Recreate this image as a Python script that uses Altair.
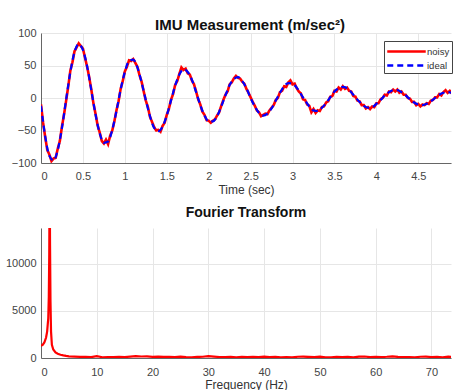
import altair as alt
import pandas as pd

# ---- data ----
ideal_y = [-12, -59, -89, -96, -80, -46, -2, 40, 71, 83, 74, 49, 12, -25, -54, -69, -67, -49, -20, 13,
           40, 57, 59, 47, 24, -3, -28, -46, -51, -44, -27, -4, 19, 36, 44, 40, 28, 9, -11, -27,
           -36, -36, -28, -13, 4, 20, 29, 32, 26, 15, 0, -13, -23, -27, -24, -16, -4, 8, 18, 23,
           22, 16, 6, -4, -13, -19, -20, -15, -8, 1, 10, 15, 17, 15, 9, 1, -6, -12, -15, -14,
           -9, -3, 4, 9, 12, 12, 9, 4, -2, -7, -10, -11, -9, -5, 0, 5, 8, 9, 8]
ideal_step = 0.05

noisy_y = [-10, -38, -60, -80, -87, -97, -93, -92, -78, -66, -44, -25, -4, 18, 42, 55, 72, 78, 84, 80,
           76, 62, 48, 32, 13, -8, -24, -42, -53, -66, -70, -64, -71, -58, -50, -36, -19, -5, 14, 26,
           41, 48, 58, 57, 60, 54, 48, 35, 25, 10, -4, -14, -29, -37, -45, -50, -49, -52, -43, -38,
           -26, -17, -3, 6, 20, 26, 37, 47, 43, 45, 38, 36, 27, 21, 10, -2, -10, -21, -26, -34,
           -35, -38, -35, -33, -27, -22, -12, -3, 5, 10, 21, 24, 30, 34, 31, 30, 25, 22, 14, 8,
           1, -6, -12, -19, -22, -28, -26, -24, -25, -19, -15, -11, -3, 0, 9, 11, 18, 17, 24, 27,
           21, 22, 15, 10, 7, -2, -3, -10, -12, -22, -17, -23, -19, -20, -14, -13, -7, -5, 2, 3,
           11, 10, 16, 13, 18, 14, 16, 11, 10, 3, 2, -4, -5, -11, -11, -16, -14, -17, -13, -14,
           -8, -8, -2, 0, 5, 4, 10, 9, 13, 10, 13, 8, 10, 5, 5, 0, -1, -6, -6, -11,
           -9, -13, -10, -11, -8, -9, -4, -3, 1, 1, 6, 4, 9, 12, 8, 11, 7]
noisy_step = 0.025

fft_freq = [0, 0.3, 0.6, 0.9, 1.1, 1.3, 1.4, 1.48, 1.55, 1.62, 1.7, 1.8, 1.95, 2.2, 2.6, 3.0, 3.5, 4.0, 4.5,
            5, 6, 7, 8, 9, 10, 11, 12, 13, 14, 15, 16, 17, 18, 19, 20, 21, 22, 23, 24, 25, 26, 27, 28, 29,
            30, 31, 32, 33, 34, 35, 36, 37, 38, 39, 40, 41, 42, 43, 44, 45, 46, 47, 48, 49, 50, 51, 52, 53,
            54, 55, 56, 57, 58, 59, 60, 61, 62, 63, 64, 65, 66, 67, 68, 69, 70, 71, 72, 73, 74]
fft_mag = [1300, 1400, 1650, 2150, 2800, 4200, 6500, 11000, 20000, 12000, 6000, 2800, 1400, 900, 600, 450, 350, 280, 220,
           180, 150, 120, 130, 90, 200, 80, 100, 90, 120, 100, 140, 190, 160, 170, 130, 150, 110, 120, 90, 140, 100, 80, 110, 130,
           200, 150, 100, 90, 120, 80, 110, 90, 130, 100, 140, 90, 120, 80, 100, 60, 130, 140, 110, 90, 150, 80, 70, 110,
           90, 120, 70, 140, 160, 90, 120, 100, 130, 180, 110, 90, 100, 80, 130, 150, 100, 120, 80, 140, 110]

x_time_ticks = [0, 0.5, 1, 1.5, 2, 2.5, 3, 3.5, 4, 4.5]
y_time_ticks = [-100, -50, 0, 50, 100]
x_freq_ticks = [0, 10, 20, 30, 40, 50, 60, 70]
y_freq_ticks = [0, 5000, 10000]

# ---- tables ----
df_noisy = pd.DataFrame({"t": [round(i * noisy_step, 4) for i in range(len(noisy_y))],
                         "y": noisy_y, "series": "noisy"})
df_ideal = pd.DataFrame({"t": [round(i * ideal_step, 4) for i in range(len(ideal_y))],
                         "y": ideal_y, "series": "ideal"})
df_fft = pd.DataFrame({"f": fft_freq, "m": fft_mag})

FONT = "Liberation Sans"
W = 410
H = 130

color_scale = alt.Scale(domain=["noisy", "ideal"], range=["#ff0000", "#0000ff"])
dash_scale = alt.Scale(domain=["noisy", "ideal"], range=[[1, 0], [6, 4]])
legend = alt.Legend(title=None, orient="none", legendX=343, legendY=8,
                    symbolType="M-2.75,0L2.75,0", symbolSize=196, symbolStrokeWidth=2.5,
                    symbolOffset=12, labelOffset=12,
                    labelFontSize=9.5, labelFont=FONT, labelColor="#333",
                    fillColor="white", strokeColor="#444", padding=2, rowPadding=0,
                    labelLimit=60)

x_t = alt.X("t:Q", scale=alt.Scale(domain=[0, 4.89], nice=False, zero=False),
            axis=alt.Axis(values=x_time_ticks, format="~g", title="Time (sec)",
                          labelPadding=7, titlePadding=3))
y_t = alt.Y("y:Q", scale=alt.Scale(domain=[-100, 100], nice=False),
            axis=alt.Axis(values=y_time_ticks, title=None, labelPadding=5))

noisy = alt.Chart(df_noisy).mark_line(strokeWidth=2.6, clip=True).encode(
    x=x_t, y=y_t,
    color=alt.Color("series:N", scale=color_scale, legend=legend),
    strokeDash=alt.StrokeDash("series:N", scale=dash_scale, legend=legend),
)
ideal = alt.Chart(df_ideal).mark_line(strokeWidth=2.2, clip=True, interpolate="monotone").encode(
    x=x_t, y=y_t,
    color=alt.Color("series:N", scale=color_scale, legend=legend),
    strokeDash=alt.StrokeDash("series:N", scale=dash_scale, legend=legend),
)
top = alt.layer(noisy, ideal).properties(
    width=W, height=H,
    title=alt.TitleParams("IMU Measurement (m/sec²)", fontSize=15, fontWeight="bold",
                          font=FONT, color="#111", offset=-6, dx=4),
)

bottom = alt.Chart(df_fft).mark_line(color="#ff0000", strokeWidth=2.2, clip=True).encode(
    x=alt.X("f:Q", scale=alt.Scale(domain=[0, 73.5], nice=False),
            axis=alt.Axis(values=x_freq_ticks, title="Frequency (Hz)", labelPadding=8, titlePadding=2)),
    y=alt.Y("m:Q", scale=alt.Scale(domain=[0, 13800], nice=False),
            axis=alt.Axis(values=y_freq_ticks, format="d", title=None, labelPadding=5)),
).properties(
    width=W, height=H,
    title=alt.TitleParams("Fourier Transform", fontSize=14, fontWeight="bold",
                          font=FONT, color="#111", offset=8),
)

chart = alt.vconcat(top, bottom, spacing=11).properties(
    padding={"left": 5, "top": 18, "right": 0, "bottom": 0},
    background="white",
).configure_axis(
    labelFont=FONT, labelFontSize=11, labelColor="#444",
    titleFont=FONT, titleFontSize=12, titleFontWeight="normal", titleColor="#333",
    gridColor="#e6e6e6", gridWidth=1, domainColor="#666", domainWidth=1, ticks=False,
).configure_view(stroke=None)

chart.save("out.html", embed_options={"renderer": "svg", "actions": False})
